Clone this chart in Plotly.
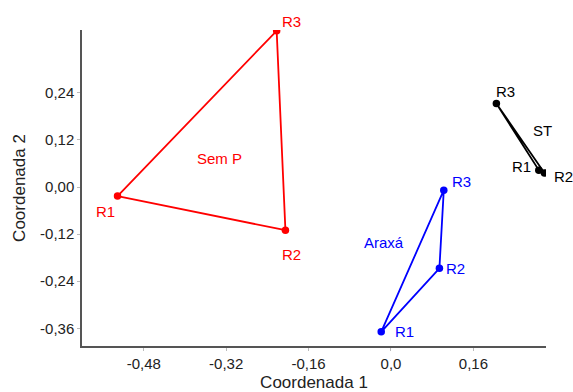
import plotly.graph_objects as go

# ---- data ----
groups = ["Sem P", "Araxá", "ST"]
point_labels = ["R1", "R2", "R3"]
sem_p_x = [-0.531, -0.205, -0.222]
sem_p_y = [-0.023, -0.110, 0.398]
araxa_x = [-0.019, 0.094, 0.1025]
araxa_y = [-0.369, -0.207, -0.008]
st_x = [0.287, 0.298, 0.2046]
st_y = [0.043, 0.036, 0.213]

x_tickvals = [-0.48, -0.32, -0.16, 0.0, 0.16]
x_ticktext = ["-0,48", "-0,32", "-0,16", "0,0", "0,16"]
y_tickvals = [0.24, 0.12, 0.0, -0.12, -0.24, -0.36]
y_ticktext = ["0,24", "0,12", "0,00", "-0,12", "-0,24", "-0,36"]

# ---- styles ----
colors = ["#ff0000", "#0000ff", "#000000"]
series = [(sem_p_x, sem_p_y), (araxa_x, araxa_y), (st_x, st_y)]
# label pixel offsets (dx, dy up) for R1, R2, R3 per group
label_offsets = [
    [(-12, -15), (6, -24), (15, 9)],
    [(23, 0), (16, 0), (18, 9)],
    [(-17, 4), (19, -4), (9, 12)],
]
group_offsets = [(-7, -6), (-37, 21), (16, 18)]

FONT = "Liberation Sans, Arial, sans-serif"
fig = go.Figure()
annotations = []
for gi, (xs, ys) in enumerate(series):
    c = colors[gi]
    fig.add_trace(go.Scatter(
        x=xs + [xs[0]], y=ys + [ys[0]], mode="lines",
        line=dict(color=c, width=1.8), hoverinfo="skip", showlegend=False))
    fig.add_trace(go.Scatter(
        x=xs, y=ys, mode="markers", marker=dict(color=c, size=7.5),
        showlegend=False, name=groups[gi]))
    for pi, lab in enumerate(point_labels):
        dx, dy = label_offsets[gi][pi]
        annotations.append(dict(
            x=xs[pi], y=ys[pi], xref="x", yref="y", text=lab, showarrow=False,
            xshift=dx, yshift=dy, font=dict(color=c, size=15, family=FONT)))
    cx = sum(xs) / 3
    cy = sum(ys) / 3
    dx, dy = group_offsets[gi]
    annotations.append(dict(
        x=cx, y=cy, xref="x", yref="y", text=groups[gi], showarrow=False,
        xshift=dx, yshift=dy, font=dict(color=c, size=15, family=FONT)))

axis_common = dict(
    showgrid=False, zeroline=False, showline=True, linecolor="#555555",
    linewidth=1.5, ticks="outside", ticklen=3, tickcolor="#bbbbbb",
    tickfont=dict(size=15, color="#222222", family=FONT), mirror=False,
    automargin=False)

fig.update_layout(
    width=573, height=392,
    margin=dict(l=82, r=27, t=30, b=46),
    plot_bgcolor="white", paper_bgcolor="white",
    annotations=annotations,
    xaxis=dict(range=[-0.6, 0.301], tickvals=x_tickvals, ticktext=x_ticktext,
               title=dict(text="Coordenada 1", standoff=6,
                          font=dict(size=17, color="#222222", family=FONT)),
               **axis_common),
    yaxis=dict(range=[-0.405, 0.40], tickvals=y_tickvals, ticktext=y_ticktext,
               title=dict(text="Coordenada 2", standoff=10,
                          font=dict(size=17, color="#222222", family=FONT)),
               **axis_common),
)

fig.write_html("out.html")
